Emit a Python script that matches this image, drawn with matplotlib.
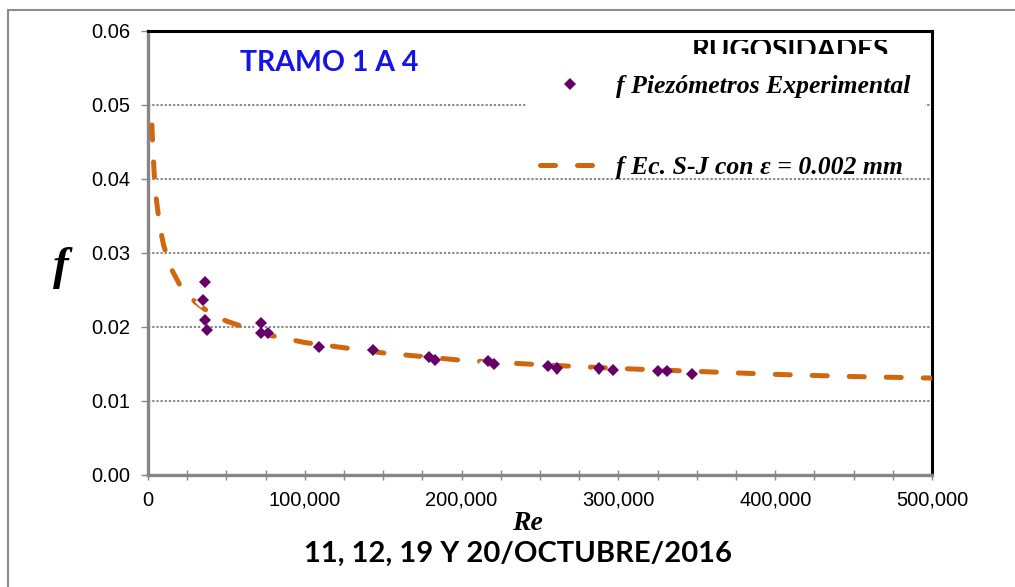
import numpy as np
import matplotlib
matplotlib.use("Agg")
import matplotlib.pyplot as plt
import matplotlib.patheffects as pe
from matplotlib.patches import Rectangle
from matplotlib.transforms import Bbox, TransformedBbox
from matplotlib.ticker import FuncFormatter, MultipleLocator

# Friction factor from the piezometers (experimental)
re_exp = [36350, 34900, 36350, 37800, 71900, 71900, 76300, 109100, 143700,
          179000, 183000, 216600, 220900, 255300, 260700, 287600, 296400,
          325100, 330800, 347100]
f_exp = [0.0261, 0.0237, 0.0209, 0.0196, 0.0205, 0.0192, 0.0192, 0.0173,
         0.0169, 0.0159, 0.0155, 0.0154, 0.0150, 0.0147, 0.0144, 0.0144,
         0.0142, 0.0140, 0.0140, 0.0137]

# Swamee-Jain curve, eps = 0.002 mm
re_sj = [2500, 3000, 4000, 5000, 7500, 10000, 15000, 20000, 30000, 40000,
         50000, 75000, 100000, 150000, 200000, 250000, 300000, 350000,
         400000, 450000, 500000]
f_sj = [0.0473, 0.0445, 0.0406, 0.0378, 0.0336, 0.0310, 0.0278, 0.0258,
        0.0234, 0.0218, 0.0208, 0.0190, 0.0179, 0.0165, 0.0155, 0.0149,
        0.0144, 0.0140, 0.0136, 0.0133, 0.0131]

purple = '#660066'
orange = '#D0670E'

fig = plt.figure(figsize=(10.15, 5.87), dpi=100)
ax = fig.add_axes([148 / 1015, 1 - 475 / 587, 784 / 1015, 444 / 587])

# chart area border
fig.patches.append(Rectangle((8 / 1015, -0.1), 1.2, 1.1 - 10 / 587,
                             transform=fig.transFigure, fill=False,
                             edgecolor='#8c8c8c', lw=1.5, zorder=0))

ax.plot(re_sj, f_sj, color=orange, lw=3.6, dashes=(3, 4.4),
        dash_capstyle='round', zorder=3)
ax.plot(re_exp, f_exp, linestyle='none', marker='D', ms=6.2, mew=0,
        color=purple, zorder=4,
        path_effects=[pe.SimplePatchShadow(offset=(-1.5, -1.5),
                                           shadow_rgbFace='white', alpha=1),
                      pe.Normal()])

ax.set_xlim(0, 500000)
ax.set_ylim(0, 0.06)
ax.xaxis.set_major_locator(MultipleLocator(100000))
ax.xaxis.set_minor_locator(MultipleLocator(25000))
ax.yaxis.set_major_locator(MultipleLocator(0.01))
ax.xaxis.set_major_formatter(FuncFormatter(lambda v, p: f'{v:,.0f}'))
ax.yaxis.set_major_formatter(FuncFormatter(lambda v, p: f'{v:.2f}'))
ax.tick_params(axis='x', which='both', direction='inout', length=7,
               width=1, color='#868686', labelsize=14.5, pad=8)
ax.tick_params(axis='y', direction='out', length=5, width=1,
               color='#868686', labelsize=14.5, pad=8)
for lbl in ax.get_xticklabels() + ax.get_yticklabels():
    lbl.set_family('Liberation Sans')

ax.grid(axis='y', color='#8c8c8c', lw=1.5, linestyle=(0, (1.1, 0.9)), zorder=1)
ax.set_axisbelow(True)
for s in ['left', 'bottom']:
    ax.spines[s].set_color('#868686')
    ax.spines[s].set_linewidth(2.4)
for s in ['top', 'right']:
    ax.spines[s].set_color('black')
    ax.spines[s].set_linewidth(2.2)

# legend panel
ax.add_patch(Rectangle((0.4834, 0.682), 0.508, 0.32, transform=ax.transAxes,
                       facecolor='white', edgecolor='none', zorder=2))
title = ax.text(0.819, (475 - 59) / 444, 'RUGOSIDADES', transform=ax.transAxes,
                ha='center', va='baseline', fontsize=20, fontweight='bold',
                family='Lato', zorder=5, clip_on=True)
# only a strip of the title shows through the panel
title.set_clip_box(TransformedBbox(Bbox([[0.48, 0.9482], [0.98, 0.9797]]),
                                   ax.transAxes))

exp_handle = plt.Line2D([], [], linestyle='none', marker='D', ms=6.2, mew=0,
                        color=purple)
sj_handle = plt.Line2D([], [], color=orange, lw=3.6, dashes=(3, 4.4),
                       dash_capstyle='round')
leg = ax.legend([exp_handle, sj_handle],
                ['f Piezómetros Experimental', 'f Ec. S-J con ε = 0.002 mm'],
                loc='upper left', bbox_to_anchor=(540 / 1015, 1 - 75 / 587),
                bbox_transform=fig.transFigure, frameon=False,
                prop={'family': 'Liberation Serif', 'style': 'italic',
                      'weight': 'bold', 'size': 18.5},
                handlelength=2.35, handletextpad=0.6, labelspacing=2.25,
                borderpad=0, borderaxespad=0)
leg.set_zorder(6)

ax.text(0.117, 0.928, 'TRAMO 1 A 4', transform=ax.transAxes, color='#1414E6',
        fontsize=20.5, fontweight='bold', family='Lato', va='center')

fig.text(61 / 1015, 1 - 268 / 587, 'f', fontsize=34, family='Liberation Serif',
         style='italic', fontweight='bold', ha='center', va='center')
fig.text(527 / 1015, 1 - 524 / 587, 'Re', fontsize=20, family='Liberation Serif',
         style='italic', fontweight='bold', ha='center', va='center')
fig.text(518 / 1015, 1 - 554 / 587, '11, 12, 19 Y 20/OCTUBRE/2016', fontsize=21,
         family='Lato', fontweight='bold', ha='center', va='center')

fig.savefig('out.png', dpi=100)
